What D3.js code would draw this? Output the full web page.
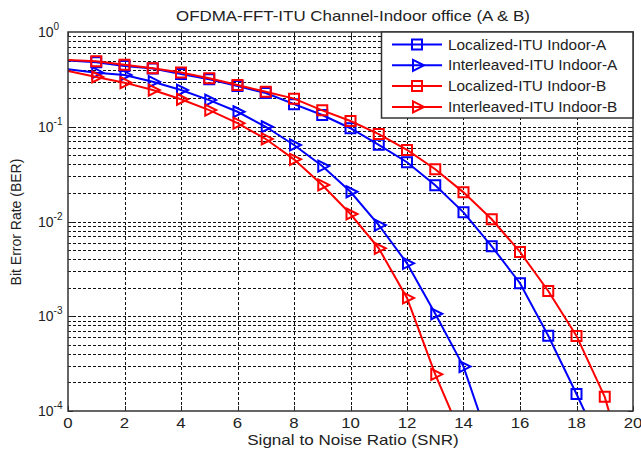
<!DOCTYPE html><meta charset="utf-8">
<style>*{margin:0}body{background:#fff}text{font-family:"Liberation Sans",Arial,sans-serif;fill:#222}</style>
<svg width="641" height="454"></svg>
<script src="https://d3js.org/d3.v7.min.js"></script>
<script>
// SNR (dB) values and BER per curve
const snrLocA = d3.range(0, 20),  // 0..19
      berLocA = [0.50,0.479,0.438,0.412,0.360,0.317,0.269,0.227,0.173,0.133,0.0964,0.0645,0.0422,0.0241,0.0125,0.00547,0.00223,0.000623,0.000151,0.000035];
const snrIntA = d3.range(0, 16),
      berIntA = [0.404,0.372,0.352,0.299,0.244,0.191,0.144,0.100,0.0642,0.0385,0.0206,0.00918,0.00362,0.00106,0.000294,0.000039];
const snrLocB = d3.range(0, 21),
      berLocB = [0.506,0.491,0.452,0.414,0.374,0.325,0.276,0.234,0.198,0.149,0.115,0.0838,0.0569,0.0356,0.0203,0.01055,0.00477,0.00185,0.00062,0.000141,0.000013];
const snrIntB = d3.range(0, 15),
      berIntB = [0.388,0.335,0.292,0.244,0.195,0.150,0.109,0.0743,0.0453,0.0243,0.0120,0.00521,0.00156,0.000244,0.000049];
const seriesNames = ["Localized-ITU Indoor-A","Interleaved-ITU Indoor-A","Localized-ITU Indoor-B","Interleaved-ITU Indoor-B"];
const xTicks = d3.range(0, 21, 2);
const yDecades = [-4,-3,-2,-1,0];

const series = [
  {name:seriesNames[0], x:snrLocA, y:berLocA, color:"#0000ff", mk:"sq"},
  {name:seriesNames[1], x:snrIntA, y:berIntA, color:"#0000ff", mk:"tri"},
  {name:seriesNames[2], x:snrLocB, y:berLocB, color:"#ff0000", mk:"sq"},
  {name:seriesNames[3], x:snrIntB, y:berIntB, color:"#ff0000", mk:"tri"}
];

const svg = d3.select("svg");
const L = 68, R = 633, T = 32, B = 411;
const x = d3.scaleLinear().domain([0,20]).range([L,R]);
const y = d3.scaleLog().domain([1e-4,1]).range([B,T]);

// text helper; the source figure's lettering is stretched sideways
function txt(parent, px, py, s, sx, anchor){
  return parent.append("text")
    .attr("transform",`translate(${px},${py}) scale(${sx},1)`)
    .attr("text-anchor",anchor||"start").attr("font-size",14).text(s);
}

svg.append("clipPath").attr("id","clip").append("rect")
   .attr("x",L).attr("y",T).attr("width",R-L).attr("height",B-T);

// grid
const g = svg.append("g").attr("stroke","#111").attr("stroke-width",1).attr("stroke-dasharray","3,2");
xTicks.slice(1,-1).forEach(t=>{
  g.append("line").attr("x1",Math.round(x(t))+.5).attr("x2",Math.round(x(t))+.5).attr("y1",T).attr("y2",B);
});
const minor = [];
yDecades.slice(0,-1).forEach(d=>{ for(let k=1;k<10;k++) minor.push(k*Math.pow(10,d)); });
minor.forEach(v=>{
  if (v===1e-4) return;
  g.append("line").attr("y1",Math.round(y(v))+.5).attr("y2",Math.round(y(v))+.5).attr("x1",L).attr("x2",R);
});

// ticks inside
const tk = svg.append("g").attr("stroke","#222").attr("stroke-width",1);
xTicks.forEach(t=>{
  const px = Math.round(x(t))+.5;
  tk.append("line").attr("x1",px).attr("x2",px).attr("y1",B).attr("y2",B-5);
  tk.append("line").attr("x1",px).attr("x2",px).attr("y1",T).attr("y2",T+5);
});
minor.forEach(v=>{
  const py = Math.round(y(v))+.5, len = (Math.log10(v)%1===0)?5:3;
  tk.append("line").attr("x1",L).attr("x2",L+len).attr("y1",py).attr("y2",py);
  tk.append("line").attr("x1",R).attr("x2",R-len).attr("y1",py).attr("y2",py);
});

// curves
const line = d3.line().x(d=>x(d[0])).y(d=>y(d[1]));
const tri = "M-4,-5.5L7,0L-4,5.5Z";
const sq = d3.symbol(d3.symbolSquare, 100)();
const plot = svg.append("g").attr("clip-path","url(#clip)");
series.forEach(s=>{
  const pts = s.x.map((v,i)=>[v,s.y[i]]);
  plot.append("path").attr("d",line(pts)).attr("fill","none")
      .attr("stroke",s.color).attr("stroke-width",2);
  plot.selectAll(null).data(pts.filter(p=>p[0]>=1)).enter().append("path")
      .attr("transform",p=>`translate(${x(p[0])},${y(p[1])})`)
      .attr("d",s.mk==="sq"?sq:tri).attr("fill","none")
      .attr("stroke",s.color).attr("stroke-width",2);
});

// axes box
svg.append("rect").attr("x",L).attr("y",T).attr("width",R-L).attr("height",B-T)
   .attr("fill","none").attr("stroke","#333").attr("stroke-width",1.5);

// tick labels
xTicks.forEach(d=>txt(svg, x(d), 428, d, 1.2, "middle"));
yDecades.forEach(d=>{
  const t = svg.append("text").attr("x",38).attr("y",y(Math.pow(10,d))+5).attr("font-size",14);
  t.append("tspan").text("10");
  t.append("tspan").attr("dy",-7).attr("font-size",10).text(d);
});

// labels
txt(svg, 353, 21, "OFDMA-FFT-ITU Channel-Indoor office (A & B)", 1.21, "middle");
txt(svg, 353, 445, "Signal to Noise Ratio (SNR)", 1.22, "middle");
svg.append("text").attr("transform","translate(21,222) rotate(-90)").attr("text-anchor","middle")
   .attr("font-size",14).text("Bit Error Rate (BER)");

// legend
const lg = svg.append("g");
lg.append("rect").attr("x",381.5).attr("y",T).attr("width",R-381.5).attr("height",86)
  .attr("fill","#fff").attr("stroke","#333").attr("stroke-width",1.5);
series.forEach((s,i)=>{
  const ly = 44.5 + i*20.8;
  lg.append("line").attr("x1",392).attr("x2",442).attr("y1",ly).attr("y2",ly)
    .attr("stroke",s.color).attr("stroke-width",2);
  lg.append("path").attr("transform",`translate(417,${ly})`).attr("d",s.mk==="sq"?sq:tri)
    .attr("fill","none").attr("stroke",s.color).attr("stroke-width",2);
  txt(lg, 448, ly+5, s.name, 1.1);
});
</script>
